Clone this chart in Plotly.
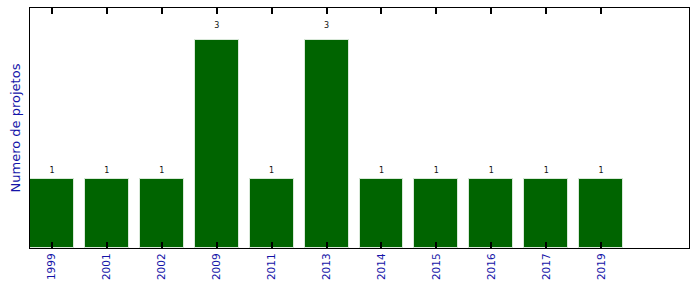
import plotly.graph_objects as go

anos = ["1999", "2001", "2002", "2009", "2011", "2013", "2014", "2015", "2016", "2017", "2019"]
projetos = [1, 1, 1, 3, 1, 3, 1, 1, 1, 1, 1]

pos = list(range(len(anos)))

fig = go.Figure()
fig.add_trace(go.Bar(
    x=pos, y=projetos, width=0.8,
    marker=dict(color="#006400", line=dict(color="#d8e8d8", width=1)),
    hoverinfo="skip",
))
fig.add_trace(go.Scatter(
    x=pos, y=[v * 1.05 for v in projetos],
    mode="text", text=[str(v) for v in projetos],
    textposition="top center",
    textfont=dict(family="DejaVu Sans", size=8, color="#111111"),
    hoverinfo="skip",
))
# overlay axis only to draw bottom inside ticks above the bars
fig.add_trace(go.Scatter(
    x=pos, y=[0 for _ in pos], xaxis="x2", mode="markers",
    marker=dict(size=0.1, opacity=0), hoverinfo="skip",
))

fig.update_layout(
    width=699, height=292,
    margin=dict(l=30, r=10, t=8, b=44),
    plot_bgcolor="white", paper_bgcolor="white",
    showlegend=False,
    bargap=0,
    font=dict(family="DejaVu Sans"),
    xaxis=dict(
        range=[-0.4, 11.6],
        tickmode="array", tickvals=pos, ticktext=anos,
        tickangle=-90, ticks="inside", ticklen=6, tickwidth=1.5, tickcolor="black",
        tickfont=dict(family="DejaVu Sans", size=10.5, color="#1414a8"),
        showline=True, linecolor="black", linewidth=1.3, mirror="allticks",
        showgrid=False, zeroline=False, layer="above traces",
    ),
    xaxis2=dict(
        overlaying="x", side="bottom", range=[-0.4, 11.6],
        tickmode="array", tickvals=pos, showticklabels=False,
        ticks="inside", ticklen=6, tickwidth=1.5, tickcolor="black",
        showline=False, showgrid=False, zeroline=False, layer="above traces",
    ),
    yaxis=dict(
        range=[0, 3.46],
        showticklabels=False, ticks="",
        title=dict(text="Numero de projetos", standoff=5,
                   font=dict(family="DejaVu Sans", size=13, color="#1414a8")),
        showline=True, linecolor="black", linewidth=1.3, mirror=True,
        showgrid=False, zeroline=False, layer="above traces",
    ),
)

fig.write_html("out.html")
